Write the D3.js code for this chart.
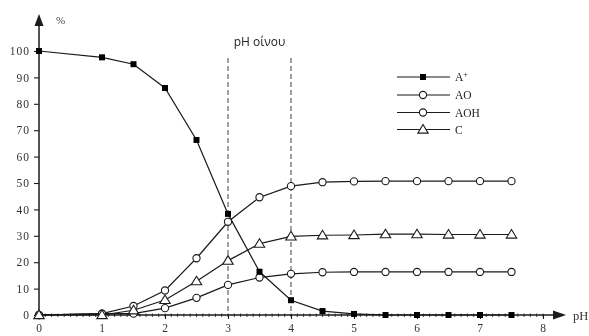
<!DOCTYPE html>
<html>
<head>
<meta charset="utf-8">
<script src="https://cdn.jsdelivr.net/npm/d3@7/dist/d3.min.js"></script>
<style>
  html, body { margin: 0; padding: 0; background: #fff; }
  svg { display: block; }
</style>
</head>
<body>
<div id="chart"></div>
<script>
// pH values at which the species distribution was computed
const pH = [0, 1, 1.5, 2, 2.5, 3, 3.5, 4, 4.5, 5, 5.5, 6, 6.5, 7, 7.5];

// Percentage of each anthocyanin form
const aPlus = [100, 97.6, 95, 86, 66.3, 38.3, 16.4, 5.6, 1.5, 0.4, 0, 0, 0, 0, 0];
const aO    = [0, 0.5, 0.5, 2.6, 6.5, 11.4, 14.2, 15.6, 16.2, 16.3, 16.3, 16.3, 16.3, 16.3, 16.3];
const aOH   = [0, 0.5, 3.4, 9.3, 21.5, 35.3, 44.6, 48.8, 50.3, 50.6, 50.7, 50.7, 50.7, 50.7, 50.7];
const cForm = [0, 0, 1.8, 5.7, 12.8, 20.6, 27, 29.8, 30.2, 30.3, 30.6, 30.6, 30.5, 30.5, 30.5];

const seriesNames = ["A+", "AO", "AOH", "C"];
const xTicks = [0, 1, 2, 3, 4, 5, 6, 7, 8];
const yTicks = [0, 10, 20, 30, 40, 50, 60, 70, 80, 90, 100];
const winePH = [3, 4];
const winePHLabel = "pH οίνου";

const W = 589, H = 336;
const svg = d3.select("#chart").append("svg").attr("width", W).attr("height", H);

const x = d3.scaleLinear().domain([0, 8]).range([39, 543]);
const y = d3.scaleLinear().domain([0, 100]).range([315, 51]);

const ink = "#1a1a1a";
const serif = "'Liberation Serif', 'DejaVu Serif', serif";

const defs = svg.append("defs");
defs.append("filter").attr("id", "soft")
  .append("feGaussianBlur").attr("stdDeviation", 0.35);

const g = svg.append("g").attr("filter", "url(#soft)");

// wine pH range guides
g.selectAll(".guide").data(winePH).enter().append("line")
  .attr("x1", d => x(d)).attr("x2", d => x(d))
  .attr("y1", 58).attr("y2", y(0))
  .attr("stroke", "#444").attr("stroke-width", 1)
  .attr("stroke-dasharray", "5,3");

svg.append("text").attr("x", (x(3) + x(4)) / 2).attr("y", 46)
  .attr("text-anchor", "middle")
  .attr("font-family", "'Open Sans', 'Noto Sans', sans-serif")
  .attr("font-size", 12).attr("fill", "#222")
  .text(winePHLabel);

// axes
const xAxis = d3.axisBottom(x).tickValues(xTicks).tickSize(4).tickPadding(5)
  .tickFormat(d3.format("d"));
const xa = g.append("g").attr("transform", `translate(0,${y(0)})`).call(xAxis);
xa.select(".domain").remove();
// minor ticks
g.append("g").selectAll("line").data(d3.range(0, 81).map(i => i / 10)).enter()
  .append("line")
  .attr("x1", d => x(d)).attr("x2", d => x(d))
  .attr("y1", y(0) - 1.5).attr("y2", y(0) + 2)
  .attr("stroke", ink).attr("stroke-width", 0.8);

const yAxis = d3.axisLeft(y).tickValues(yTicks).tickSize(5).tickPadding(4);
const ya = g.append("g").attr("transform", `translate(${x(0)},0)`).call(yAxis);
ya.select(".domain").remove();

[xa, ya].forEach(a => {
  a.selectAll(".tick line").attr("stroke", ink).attr("stroke-width", 1.1);
  a.selectAll(".tick text").attr("font-family", serif).attr("font-size", 11.5)
    .attr("letter-spacing", 1).attr("fill", "#333");
});

// axis lines with arrows
g.append("line").attr("x1", x(0)).attr("x2", 556).attr("y1", y(0)).attr("y2", y(0))
  .attr("stroke", ink).attr("stroke-width", 1.5);
g.append("path").attr("d", `M566,${y(0)} L553,${y(0) - 4.5} L553,${y(0) + 4.5} Z`).attr("fill", ink);
g.append("line").attr("x1", x(0)).attr("x2", x(0)).attr("y1", y(0)).attr("y2", 24)
  .attr("stroke", ink).attr("stroke-width", 1.5);
g.append("path").attr("d", `M${x(0)},14 L${x(0) - 4.5},26 L${x(0) + 4.5},26 Z`).attr("fill", ink);

svg.append("text").attr("x", 573).attr("y", 320).attr("font-family", serif)
  .attr("font-size", 12.5).attr("fill", "#333").text("pH");
svg.append("text").attr("x", 56).attr("y", 24).attr("font-family", serif)
  .attr("font-size", 11).attr("fill", "#444").text("%");

// series
const seriesData = [aPlus, aO, aOH, cForm];
const markers = ["square", "circle", "circle", "triangle"];

function drawMarker(sel, type, cx, cy) {
  if (type === "square") {
    sel.append("rect").attr("x", cx - 3).attr("y", cy - 3)
      .attr("width", 6).attr("height", 6).attr("fill", "#000");
  } else if (type === "circle") {
    sel.append("circle").attr("cx", cx).attr("cy", cy).attr("r", 3.6)
      .attr("fill", "#fff").attr("stroke", ink).attr("stroke-width", 1.1);
  } else {
    sel.append("path")
      .attr("d", `M${cx},${cy - 5} L${cx + 5.2},${cy + 3.6} L${cx - 5.2},${cy + 3.6} Z`)
      .attr("fill", "#fff").attr("stroke", ink).attr("stroke-width", 1.1);
  }
}

const line = d3.line().x(d => x(d[0])).y(d => y(d[1]));
// lines first, markers on top
seriesData.forEach(vals => {
  g.append("path").datum(pH.map((p, i) => [p, vals[i]]))
    .attr("d", line).attr("fill", "none")
    .attr("stroke", ink).attr("stroke-width", 1.2);
});
[1, 2, 0, 3].forEach(k => {
  const mg = g.append("g");
  pH.forEach((p, i) => drawMarker(mg, markers[k], x(p), y(seriesData[k][i])));
});

// legend
const legendY = [77, 95, 112.5, 129.5];
const lg = g.append("g");
seriesNames.forEach((name, k) => {
  const ly = legendY[k];
  lg.append("line").attr("x1", 397).attr("x2", 450).attr("y1", ly).attr("y2", ly)
    .attr("stroke", ink).attr("stroke-width", 1.2);
  drawMarker(lg, markers[k], 423, ly);
  const t = svg.append("text").attr("x", 455).attr("y", ly + 4)
    .attr("font-family", serif).attr("font-size", 11.5).attr("fill", "#222");
  if (name === "A+") {
    t.append("tspan").text("A");
    t.append("tspan").attr("dy", -4).attr("font-size", 8).text("+");
  } else {
    t.text(name);
  }
});
</script>
</body>
</html>
